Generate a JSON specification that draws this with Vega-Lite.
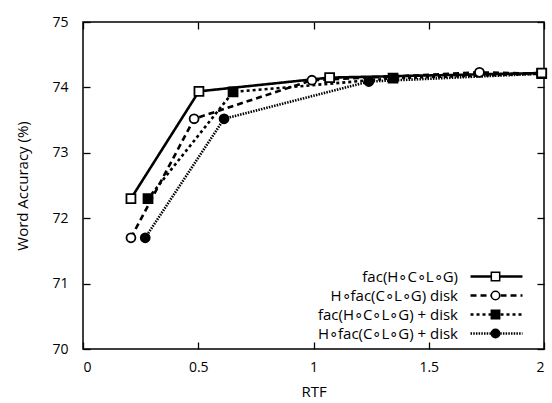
{
  "$schema": "https://vega.github.io/schema/vega-lite/v6.json",
  "width": 461,
  "height": 327,
  "autosize": "none",
  "padding": {"left": 83, "top": 22, "right": 8, "bottom": 54},
  "config": {
    "font": "Open Sans",
    "view": {"stroke": "black", "strokeWidth": 1.5},
    "axis": {
      "domain": false,
      "grid": false,
      "tickColor": "black",
      "tickSize": -7,
      "tickWidth": 1.3,
      "labelColor": "black",
      "labelFontSize": 14,
      "titleColor": "black",
      "titleFontSize": 15,
      "titleFontWeight": "normal"
    },
    "legend": {
      "labelFontSize": 15,
      "labelColor": "black",
      "labelFont": "Open Sans"
    }
  },
  "data": {
    "values": [
      {"s": "H∘fac(C∘L∘G) disk", "k": 2, "rtf": 0.208, "acc": 71.70},
      {"s": "H∘fac(C∘L∘G) disk", "k": 2, "rtf": 0.482, "acc": 73.52},
      {"s": "H∘fac(C∘L∘G) disk", "k": 2, "rtf": 0.993, "acc": 74.11},
      {"s": "H∘fac(C∘L∘G) disk", "k": 2, "rtf": 1.72, "acc": 74.23},
      {"s": "H∘fac(C∘L∘G) disk", "k": 2, "rtf": 1.99, "acc": 74.21},
      {"s": "fac(H∘C∘L∘G) + disk", "k": 3, "rtf": 0.282, "acc": 72.30},
      {"s": "fac(H∘C∘L∘G) + disk", "k": 3, "rtf": 0.651, "acc": 73.93},
      {"s": "fac(H∘C∘L∘G) + disk", "k": 3, "rtf": 1.345, "acc": 74.14},
      {"s": "fac(H∘C∘L∘G) + disk", "k": 3, "rtf": 1.99, "acc": 74.21},
      {"s": "H∘fac(C∘L∘G) + disk", "k": 4, "rtf": 0.27, "acc": 71.70},
      {"s": "H∘fac(C∘L∘G) + disk", "k": 4, "rtf": 0.612, "acc": 73.52},
      {"s": "H∘fac(C∘L∘G) + disk", "k": 4, "rtf": 1.24, "acc": 74.09},
      {"s": "H∘fac(C∘L∘G) + disk", "k": 4, "rtf": 1.99, "acc": 74.21},
      {"s": "fac(H∘C∘L∘G)", "k": 1, "rtf": 0.208, "acc": 72.30},
      {"s": "fac(H∘C∘L∘G)", "k": 1, "rtf": 0.503, "acc": 73.94},
      {"s": "fac(H∘C∘L∘G)", "k": 1, "rtf": 1.07, "acc": 74.15},
      {"s": "fac(H∘C∘L∘G)", "k": 1, "rtf": 1.99, "acc": 74.22}
    ]
  },
  "resolve": {"axis": {"x": "independent", "y": "independent"}},
  "layer": [
    {
      "mark": {"type": "line", "color": "black", "strokeWidth": 2.6},
      "encoding": {
        "x": {"field": "rtf", "type": "quantitative", "scale": {"domain": [0, 2]},
              "axis": {"values": [0, 0.5, 1, 1.5, 2], "format": "~g", "title": "RTF", "labelPadding": 18, "titlePadding": 10}},
        "y": {"field": "acc", "type": "quantitative", "scale": {"domain": [70, 75]},
              "axis": {"values": [70, 71, 72, 73, 74, 75], "title": "Word Accuracy (%)", "labelPadding": 22, "titlePadding": 21}},
        "strokeDash": {
          "field": "s", "type": "nominal",
          "sort": {"field": "k", "op": "min"},
          "scale": {"range": [[1, 0], [6, 4], [3, 3], [1.5, 1.2]]},
          "legend": {
            "title": null,
            "orient": "none",
            "legendX": 406,
            "legendY": 247,
            "padding": 0,
            "symbolType": "M-5,0H5",
            "symbolSize": 108,
            "symbolStrokeWidth": 2.6,
            "symbolStrokeColor": "black",
            "labelAlign": "right",
            "labelOffset": -46,
            "rowPadding": 3
          }
        },
        "order": {"field": "rtf"}
      }
    },
    {
      "mark": {"type": "point", "filled": true, "stroke": "black", "strokeWidth": 1.8, "size": 80, "opacity": 1},
      "encoding": {
        "x": {"field": "rtf", "type": "quantitative",
              "axis": {"orient": "top", "values": [0, 0.5, 1, 1.5, 2], "labels": false, "title": null}},
        "y": {"field": "acc", "type": "quantitative",
              "axis": {"orient": "right", "values": [70, 71, 72, 73, 74, 75], "labels": false, "title": null}},
        "shape": {
          "field": "s", "type": "nominal",
          "scale": {"domain": ["fac(H∘C∘L∘G)", "H∘fac(C∘L∘G) disk", "fac(H∘C∘L∘G) + disk", "H∘fac(C∘L∘G) + disk"],
                    "range": ["square", "circle", "square", "circle"]},
          "legend": {
            "title": null,
            "orient": "none",
            "legendX": 405,
            "legendY": 247,
            "padding": 0,
            "symbolSize": 70,
            "labelExpr": "''",
            "rowPadding": 3,
            "encode": {"symbols": {"update": {"stroke": {"value": "black"}, "strokeWidth": {"value": 1.8}, "opacity": {"value": 1}}}}
          }
        },
        "fill": {
          "field": "s", "type": "nominal",
          "scale": {"domain": ["fac(H∘C∘L∘G)", "H∘fac(C∘L∘G) disk", "fac(H∘C∘L∘G) + disk", "H∘fac(C∘L∘G) + disk"],
                    "range": ["white", "white", "black", "black"]},
          "legend": {
            "title": null,
            "orient": "none",
            "legendX": 405,
            "legendY": 247,
            "padding": 0,
            "symbolSize": 70,
            "labelExpr": "''",
            "rowPadding": 3,
            "encode": {"symbols": {"update": {"stroke": {"value": "black"}, "strokeWidth": {"value": 1.8}, "opacity": {"value": 1}}}}
          }
        }
      }
    }
  ]
}
